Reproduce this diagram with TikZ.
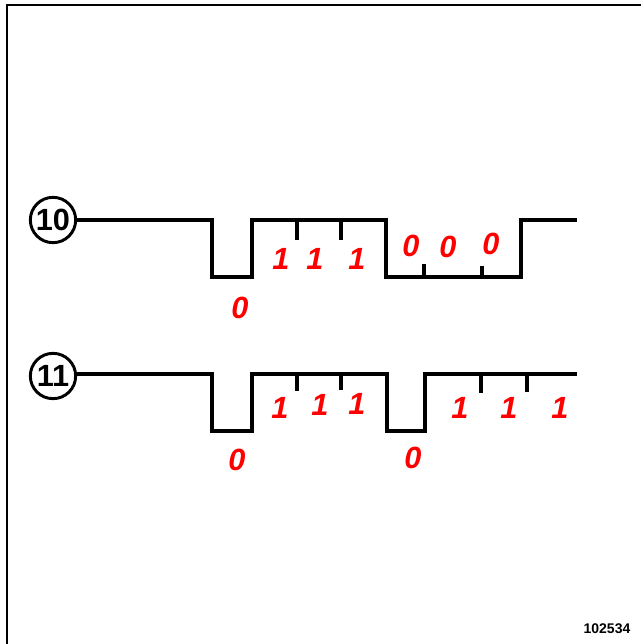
\documentclass[tikz,border=0pt]{standalone}
\usepackage{fontspec}
\setmainfont{Liberation Sans}
\usetikzlibrary{positioning}

\begin{document}
\begin{tikzpicture}[
  x=0.75pt, y=-0.75pt,
  sig/.style={line width=3.2pt, line join=miter},
  tickline/.style={line width=2.4pt},
  bit/.style={inner sep=0pt, text=red,
    font=\fontsize{23}{23}\selectfont\bfseries\itshape},
  tag/.style={draw, circle, line width=2.2pt, minimum size=34pt,
    inner sep=0pt, font=\fontsize{23}{23}\selectfont\bfseries}
]
  \useasboundingbox (0,0) rectangle (641,644);
  % frame (top and left only)
  \draw[line width=2.2pt] (7,644) -- (7,5) -- (641,5);

  % line 10
  \node[tag] (s10) at (53,220) {10};
  \draw[sig] (s10) -- (212,220) -- (212,277) -- (252,277) -- (252,220)
    -- (386,220) -- (386,277) -- (521,277) -- (521,220) -- (577,220);
  \draw[tickline] (297,220) -- (297,240);
  \draw[tickline] (341,220) -- (341,240);
  \draw[tickline] (424,277) -- (424,264);
  \draw[tickline] (482,277) -- (482,266);
  \foreach \x/\y/\b [count=\i] in {240/308/0, 281/259/1, 315/259/1,
      357/259/1, 411/246/0, 448/247/0, 491/244/0}
    \node[bit] (b10-\i) at (\x,\y) {\b};

  % line 11
  \node[tag] (s11) at (53,376) {11};
  \draw[sig] (s11.east |- 0,374) -- (212,374) -- (212,431) -- (252,431) -- (252,374)
    -- (387,374) -- (387,431) -- (425,431) -- (425,374) -- (577,374);
  \draw[tickline] (297,374) -- (297,391);
  \draw[tickline] (341,374) -- (341,390);
  \draw[tickline] (481,374) -- (481,393);
  \draw[tickline] (527,374) -- (527,392);
  \foreach \x/\y/\b [count=\i] in {237/460/0, 280/408/1, 320/405/1,
      357/404/1, 413/458/0, 460/408/1, 509/408/1, 560/408/1}
    \node[bit] (b11-\i) at (\x,\y) {\b};

  \node[font=\fontsize{10.5}{10.5}\selectfont\bfseries] (ref) at (607,629) {102534};
\end{tikzpicture}
\end{document}
